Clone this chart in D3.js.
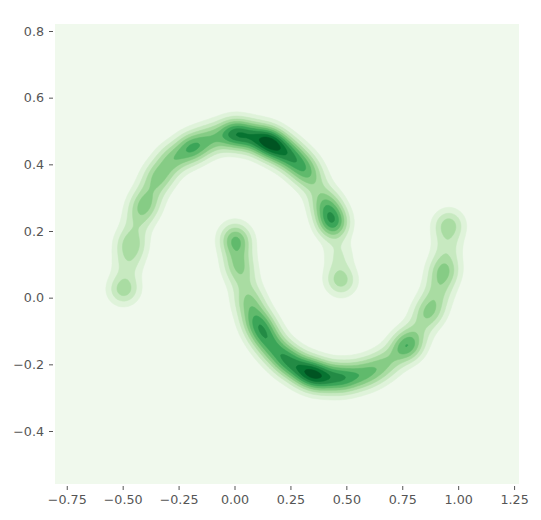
<!DOCTYPE html>
<html>
<head>
<meta charset="utf-8">
<script src="https://cdnjs.cloudflare.com/ajax/libs/d3/7.8.5/d3.min.js"></script>
<style>
  body { margin: 0; background: #fff; }
  .tick text { font-family: "DejaVu Sans", sans-serif; font-size: 12.7px; fill: #555; }
  .tick line { stroke: #555; }
</style>
</head>
<body>
<div id="chart"></div>
<script>
// points of the two moons (x, y)
var upperMoon = [
  [-0.49, 0.03], [-0.50, 0.02], [-0.478, 0.10], [-0.466, 0.17], [-0.46, 0.15],
  [-0.435, 0.225], [-0.41, 0.27], [-0.40, 0.28], [-0.375, 0.32], [-0.345, 0.36],
  [-0.33, 0.37], [-0.29, 0.41], [-0.27, 0.42], [-0.21, 0.44], [-0.19, 0.45],
  [-0.18, 0.455], [-0.12, 0.47], [-0.10, 0.48], [-0.03, 0.49], [-0.01, 0.495],
  [0.01, 0.49], [0.03, 0.49], [0.07, 0.485], [0.09, 0.48], [0.13, 0.475],
  [0.145, 0.47], [0.16, 0.465], [0.17, 0.46], [0.19, 0.45], [0.22, 0.44],
  [0.24, 0.43], [0.26, 0.42], [0.29, 0.40], [0.31, 0.39], [0.33, 0.37],
  [0.36, 0.34], [0.40, 0.29], [0.41, 0.28], [0.43, 0.25], [0.435, 0.235],
  [0.44, 0.22], [0.445, 0.21], [0.465, 0.13], [0.47, 0.06], [0.48, 0.045]
];
var lowerMoon = [
  [0.0, 0.19], [0.005, 0.17], [0.01, 0.16], [0.015, 0.11], [0.02, 0.09],
  [0.04, 0.05], [0.06, 0.0], [0.07, -0.02], [0.09, -0.06], [0.10, -0.07],
  [0.12, -0.09], [0.13, -0.11], [0.14, -0.12], [0.17, -0.15], [0.18, -0.155],
  [0.22, -0.18], [0.235, -0.19], [0.25, -0.195], [0.29, -0.215], [0.31, -0.22],
  [0.33, -0.225], [0.35, -0.23], [0.37, -0.235], [0.39, -0.24], [0.41, -0.24],
  [0.46, -0.24], [0.48, -0.245], [0.50, -0.24], [0.55, -0.235], [0.58, -0.23],
  [0.62, -0.22], [0.66, -0.205], [0.70, -0.185], [0.76, -0.15], [0.77, -0.145],
  [0.78, -0.14], [0.82, -0.10], [0.86, -0.05], [0.875, -0.04], [0.90, 0.0],
  [0.92, 0.04], [0.935, 0.08], [0.94, 0.09], [0.95, 0.15], [0.955, 0.21],
  [0.96, 0.225]
];
var xTicks = [-0.75, -0.5, -0.25, 0, 0.25, 0.5, 0.75, 1.0, 1.25];
var yTicks = [-0.4, -0.2, 0.0, 0.2, 0.4, 0.6, 0.8];
var greens = ['#f7fcf5', '#e5f5e0', '#c7e9c0', '#a1d99b', '#74c476', '#41ab5d', '#238b45', '#006d2c', '#00441b'];

var W = 541, H = 520;
var margin = {top: 24, right: 22, bottom: 36, left: 55};
var width = W - margin.left - margin.right;
var height = H - margin.top - margin.bottom;

var x = d3.scaleLinear().domain([-0.8026, 1.272]).range([0, width]);
var y = d3.scaleLinear().domain([-0.559, 0.821]).range([height, 0]);

var svg = d3.select('#chart').append('svg').attr('width', W).attr('height', H)
  .append('g').attr('transform', 'translate(' + margin.left + ',' + margin.top + ')');

var points = upperMoon.concat(lowerMoon);

// gaussian kde on a grid (bandwidth in data units per axis)
var bwX = 0.05, bwY = 0.033, step = 2;
var nx = Math.ceil(width / step), ny = Math.ceil(height / step);
var values = new Float64Array(nx * ny);
for (var j = 0; j < ny; j++) {
  var gy = y.invert((j + 0.5) * step);
  for (var i = 0; i < nx; i++) {
    var gx = x.invert((i + 0.5) * step), s = 0;
    for (var k = 0; k < points.length; k++) {
      var dx = (gx - points[k][0]) / bwX, dy = (gy - points[k][1]) / bwY;
      s += Math.exp(-0.5 * (dx * dx + dy * dy));
    }
    values[j * nx + i] = s;
  }
}
var vmax = d3.max(values);
var nLevels = 10;
var levels = d3.range(nLevels).map(function(k) { return vmax * k / nLevels; });
var cmap = d3.scaleLinear().domain(d3.range(9).map(function(i) { return i / 8; })).range(greens);
function layerColor(k) { return cmap((k + 0.5) / nLevels); }

svg.append('clipPath').attr('id', 'clip').append('rect').attr('width', width).attr('height', height);

var path = d3.geoPath(d3.geoTransform({
  point: function(px, py) { this.stream.point(px * step, py * step); }
}));

var g = svg.append('g').attr('clip-path', 'url(#clip)');
g.append('rect').attr('width', width).attr('height', height).attr('fill', layerColor(0));
var contours = d3.contours().size([nx, ny]).thresholds(levels)(values);
g.selectAll('path.level').data(contours).enter().append('path').attr('class', 'level')
  .attr('d', path)
  .attr('fill', function(d, i) { return layerColor(i); })
  .attr('stroke', function(d, i) { return layerColor(i); })
  .attr('stroke-width', 0.5);

var xAxis = d3.axisBottom(x).tickValues(xTicks).tickSize(4).tickPadding(5)
  .tickFormat(d3.format('.2f'));
var yAxis = d3.axisLeft(y).tickValues(yTicks).tickSize(4).tickPadding(5)
  .tickFormat(d3.format('.1f'));

svg.append('g').attr('transform', 'translate(0,' + (height + 2) + ')').call(xAxis)
  .call(function(s) { s.select('.domain').remove(); });
svg.append('g').attr('transform', 'translate(-2,0)').call(yAxis)
  .call(function(s) { s.select('.domain').remove(); });
svg.selectAll('.tick text').text(function() { return d3.select(this).text().replace('-', '\u2212'); });
</script>
</body>
</html>
